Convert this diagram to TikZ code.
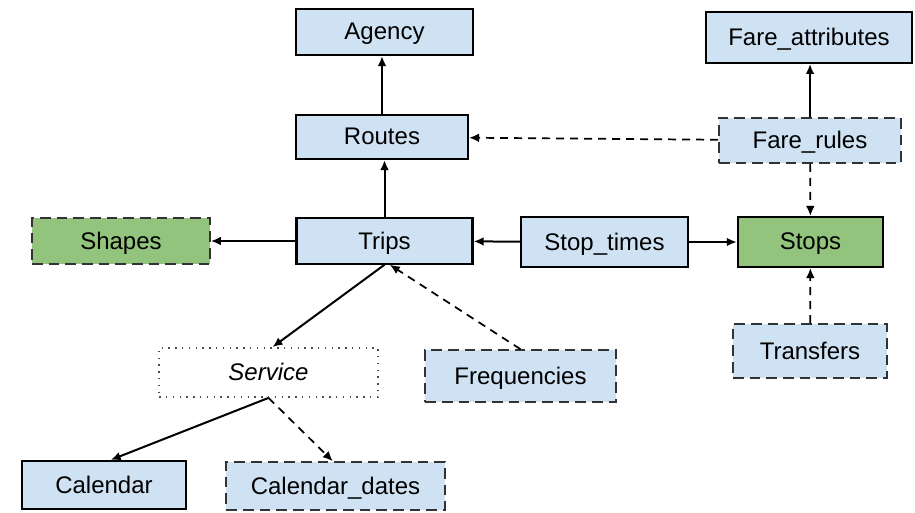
\documentclass[tikz,border=0pt]{standalone}
\usepackage{fontspec}
\setmainfont{Liberation Sans}
\usetikzlibrary{arrows.meta}
\definecolor{tblblue}{HTML}{CFE2F3}
\definecolor{tblgreen}{HTML}{93C47D}
\begin{document}
\begin{tikzpicture}[>={Latex[length=7.5pt,width=6.5pt]},x=0.75pt,y=-0.75pt,
	tbl/.style={draw,fill=tblblue,line width=1.6pt,font=\fontsize{18}{21}\selectfont,inner sep=0pt,text depth=1pt},
	opt/.style={tbl,draw=black!80,line width=1.2pt,dash pattern=on 8pt off 4.5pt},
	virt/.style={tbl,fill=none,draw=black!70,line width=1.1pt,dash pattern=on 1.1pt off 4pt,font=\fontsize{18}{21}\selectfont\itshape},
	link/.style={->,line width=1.5pt},
	optlink/.style={->,line width=1.3pt,dash pattern=on 6pt off 4.5pt}]
	\useasboundingbox (0,0) rectangle (915,512);
	\node[tbl,minimum width=133pt,minimum height=34.5pt] (agency) at (384.5,32) {Agency};
	\node[tbl,minimum width=129pt,minimum height=33pt] (routes) at (382,137) {Routes};
	\node[tbl,minimum width=132pt,minimum height=34pt] (trips) at (384.5,241) {Trips};
	\node[opt,fill=tblgreen,minimum width=133.5pt,minimum height=34.5pt] (shapes) at (121,241) {Shapes};
	\node[tbl,minimum width=125pt,minimum height=37.5pt] (stoptimes) at (604.5,242) {Stop\_times};
	\node[tbl,fill=tblgreen,minimum width=109pt,minimum height=37.5pt] (stops) at (810.5,242) {Stops};
	\node[tbl,minimum width=154.5pt,minimum height=38pt] (fareattr) at (809,37.5) {Fare\_attributes};
	\node[opt,minimum width=136.5pt,minimum height=34pt] (farerules) at (810,140.5) {Fare\_rules};
	\node[opt,minimum width=115.5pt,minimum height=40.5pt] (transfers) at (810,351) {Transfers};
	\node[opt,minimum width=143pt,minimum height=39pt] (freq) at (520.5,376) {Frequencies};
	\node[virt,minimum width=164pt,minimum height=37pt] (service) at (268.5,372.5) {Service};
	\node[tbl,minimum width=123pt,minimum height=36pt] (calendar) at (104,485) {Calendar};
	\node[opt,minimum width=164pt,minimum height=36pt] (caldates) at (335.5,486) {Calendar\_dates};
	\draw[link] (routes)--(routes|-agency.south);
	\draw[link] (trips)--(trips|-routes.south);
	\draw[link] (trips)--(shapes);
	\draw[link] (stoptimes)--(trips);
	\draw[link] (stoptimes)--(stops);
	\draw[link] (farerules)--(farerules|-fareattr.south);
	\draw[optlink] (farerules)--(routes);
	\draw[optlink] (farerules)--(stops);
	\draw[optlink] (transfers)--(stops);
	\draw[link] (trips.south)--([xshift=3pt]service.north);
	\draw[optlink] (freq.north)--([xshift=4pt]trips.south);
	\draw[link] (service.south)--([xshift=5pt]calendar.north);
	\draw[optlink] (service.south)--([xshift=-2pt]caldates.north);
\end{tikzpicture}
\end{document}
